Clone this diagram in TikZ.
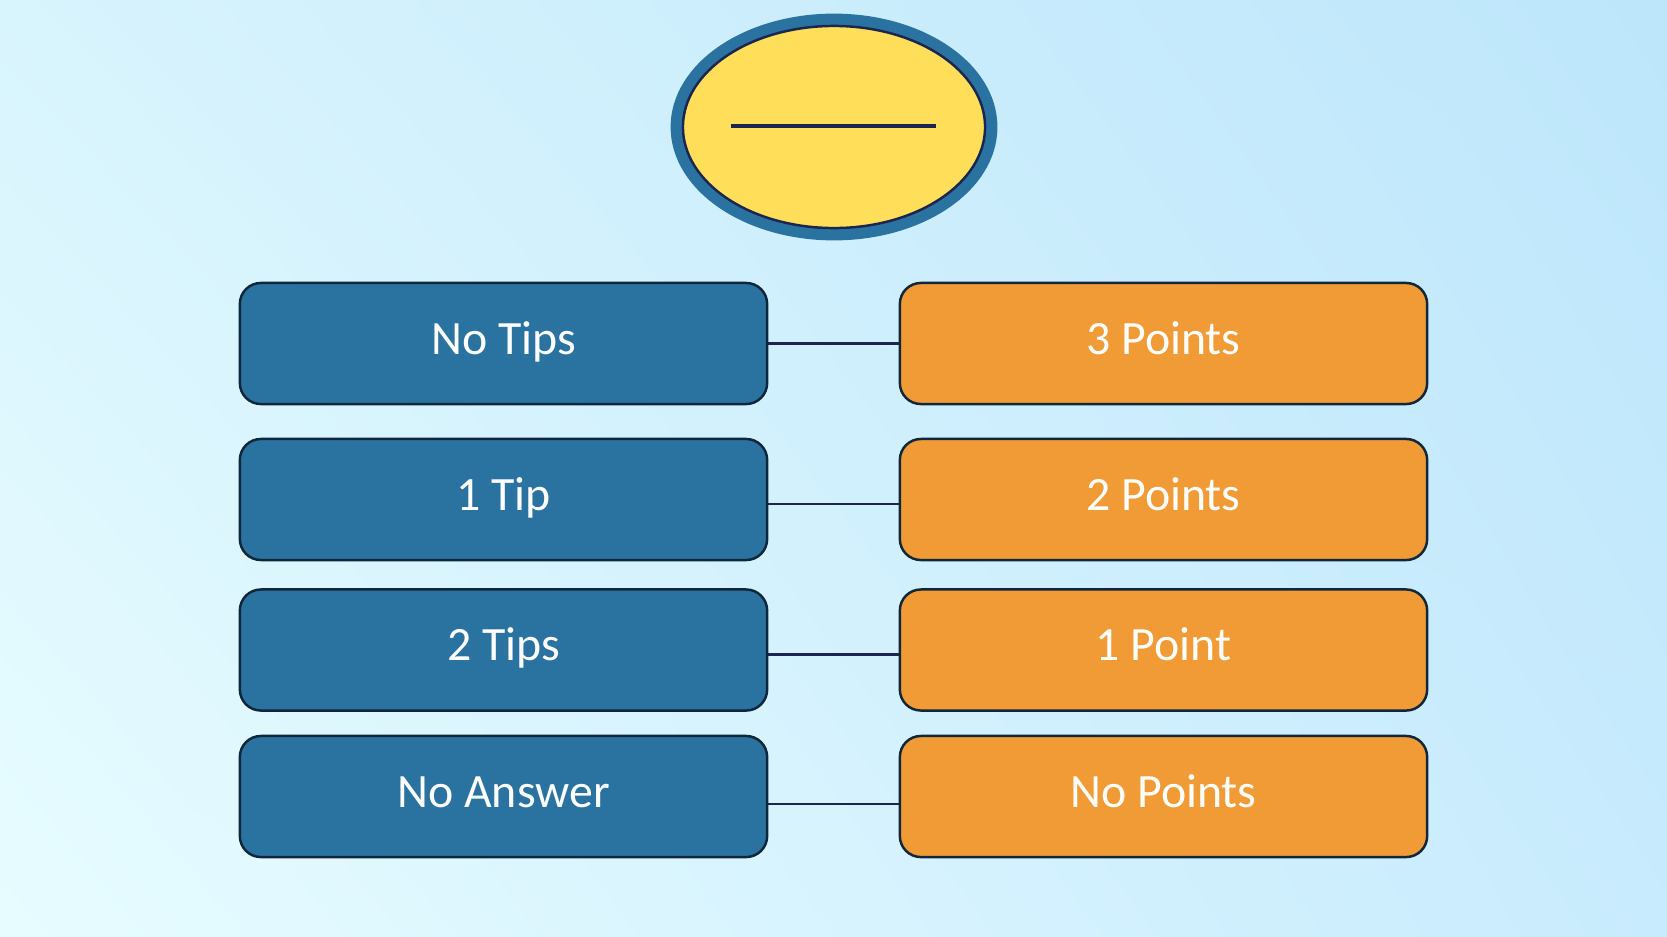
\documentclass[tikz,border=0pt]{standalone}
\usepackage{fontspec}
\setmainfont{Carlito}
\usepackage{tikz}
\usetikzlibrary{shadings}
\definecolor{bgul}{HTML}{D8F4FD}
\definecolor{bgur}{HTML}{BDE6FB}
\definecolor{bgll}{HTML}{E7FCFF}
\definecolor{bglr}{HTML}{C8EBFD}
\definecolor{tipblue}{HTML}{2A73A0}
\definecolor{ptorange}{HTML}{F09B35}
\definecolor{sunyellow}{HTML}{FFDE5A}
\definecolor{edgedark}{HTML}{10263A}
\definecolor{navy}{HTML}{1B2550}

\begin{document}
\begin{tikzpicture}[x=0.01cm,y=-0.01cm,
  box/.style={draw=edgedark,line width=0.7pt,rounded corners=0.21cm,
    minimum width=5.27cm,minimum height=1.21cm,text=white,
    text height=0.32cm,text depth=0.108cm,
    font=\fontsize{13.6}{16}\selectfont},
  tipbox/.style={box,fill=tipblue},
  ptbox/.style={box,fill=ptorange},
  link/.style={draw=navy,line width=0.65pt}]
  \useasboundingbox (0,0) rectangle (1667,936);
  \shade[upper left=bgul,upper right=bgur,lower left=bgll,lower right=bglr]
    (0,0) rectangle (1667,936);
  % title ellipse
  \draw[tipblue,line width=3.6pt] (834,127) ellipse [x radius=1.57cm,y radius=1.07cm];
  \draw[fill=sunyellow,draw=navy,line width=0.7pt] (834,127) ellipse [x radius=1.51cm,y radius=1.01cm];
  \draw[navy,line width=0.9pt] (731,126)--(936,126);
  % rows
  \foreach \i/\y/\dy/\tip/\pts in {1/343.5/0/No Tips/3 Points,2/499.5/0.045/1 Tip/2 Points,
      3/650/0.045/2 Tips/1 Point,4/796.5/0.075/No Answer/No Points}{
    \node[tipbox] (L\i) at (503.5,\y) {\tip};
    \node[ptbox] (R\i) at (1163.5,\y) {\pts};
    \draw[link] ([yshift=-\dy cm]L\i.east)--([yshift=-\dy cm]R\i.west);
  }
\end{tikzpicture}
\end{document}
